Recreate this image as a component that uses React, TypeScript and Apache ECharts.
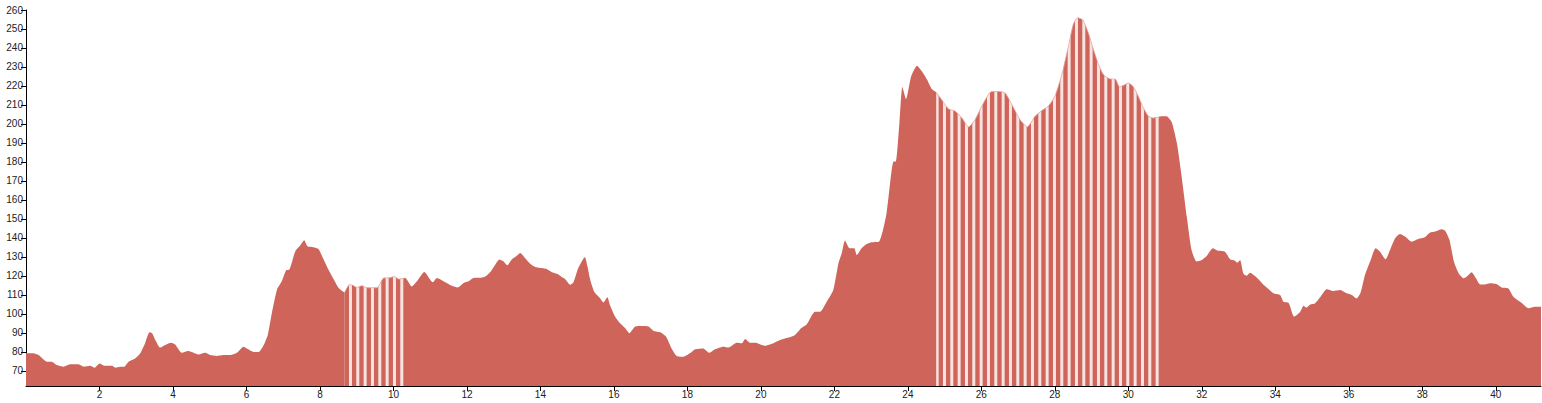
import React, { useEffect, useRef } from "react";
import * as echarts from "echarts";

const distanceKm = [
  0, 0.2, 0.34, 0.57, 0.7, 0.84, 1.02, 1.2, 1.43, 1.57, 1.75, 1.86, 2.0, 2.15, 2.34, 2.43, 2.56, 2.67, 2.79, 2.97,
  3.11, 3.24, 3.36, 3.43, 3.52, 3.65, 3.79, 3.94, 4.06, 4.24, 4.42, 4.56, 4.69, 4.88, 5.01, 5.19, 5.37, 5.56, 5.74, 5.92,
  6.05, 6.19, 6.33, 6.47, 6.58, 6.69, 6.83, 6.96, 7.08, 7.17, 7.33, 7.46, 7.57, 7.66, 7.82, 7.96, 8.1, 8.23, 8.37, 8.51,
  8.67, 8.8, 8.89, 9.0, 9.14, 9.28, 9.55, 9.73, 9.91, 10.02, 10.14, 10.32, 10.5, 10.64, 10.84, 11.07, 11.18, 11.41, 11.59, 11.75,
  11.91, 12.04, 12.18, 12.36, 12.5, 12.63, 12.77, 12.88, 12.99, 13.1, 13.22, 13.34, 13.45, 13.58, 13.72, 13.86, 14.04, 14.17, 14.31, 14.45,
  14.58, 14.67, 14.81, 14.9, 15.03, 15.21, 15.28, 15.35, 15.46, 15.62, 15.71, 15.82, 15.9, 16.03, 16.17, 16.31, 16.42, 16.58, 16.76, 16.94,
  17.08, 17.26, 17.42, 17.57, 17.71, 17.89, 18.07, 18.21, 18.43, 18.6, 18.75, 18.98, 19.12, 19.34, 19.48, 19.57, 19.71, 19.84, 20.11, 20.34,
  20.52, 20.75, 20.93, 21.1, 21.25, 21.47, 21.61, 21.79, 21.97, 22.11, 22.2, 22.29, 22.41, 22.54, 22.61, 22.74, 22.88, 23.02, 23.22, 23.42,
  23.61, 23.67, 23.77, 23.85, 23.95, 24.09, 24.25, 24.38, 24.52, 24.65, 24.77, 24.92, 25.1, 25.29, 25.47, 25.65, 25.83, 26.01, 26.24, 26.42,
  26.64, 26.83, 27.05, 27.25, 27.46, 27.64, 27.82, 28.0, 28.19, 28.37, 28.5, 28.62, 28.76, 28.91, 29.05, 29.19, 29.32, 29.5, 29.64, 29.76,
  29.86, 30.0, 30.14, 30.27, 30.41, 30.55, 30.68, 30.82, 30.91, 31.04, 31.18, 31.32, 31.45, 31.59, 31.72, 31.86, 32.0, 32.13, 32.3, 32.42,
  32.63, 32.77, 32.9, 32.97, 33.04, 33.13, 33.22, 33.31, 33.49, 33.72, 33.95, 34.13, 34.22, 34.36, 34.51, 34.68, 34.77, 34.84, 34.95, 35.08,
  35.22, 35.4, 35.58, 35.76, 35.94, 36.08, 36.21, 36.32, 36.44, 36.58, 36.73, 36.85, 37.0, 37.12, 37.26, 37.39, 37.53, 37.71, 37.89, 38.07,
  38.21, 38.35, 38.53, 38.62, 38.74, 38.86, 38.98, 39.13, 39.21, 39.34, 39.46, 39.57, 39.71, 39.84, 40.02, 40.16, 40.34, 40.48, 40.7, 40.89,
  41.07, 41.23,
];

const elevationM = [
  79.2, 79.2, 78.3, 74.8, 74.8, 73, 72.1, 73.4, 73.4, 72.1, 72.6, 71.6, 73.9, 72.6, 72.6, 71.6, 72.1, 72.1, 74.8, 76.5,
  79.2, 84.5, 90.3, 89.8, 86.2, 82.2, 83.6, 84.8, 83.9, 79.5, 80.4, 79.5, 78.6, 79.5, 78.3, 77.8, 78.3, 78.3, 79.5, 82.7,
  81.3, 79.9, 79.9, 83.6, 88.9, 100.3, 112.7, 117.1, 122.9, 123.3, 133, 136, 138.8, 135.6, 135.1, 134.2, 128.6, 123.3, 118.3, 113.6,
  111.3, 115.3, 115.1, 113.9, 114.8, 113.7, 113.7, 118.8, 119, 119.7, 118.3, 118.9, 114.4, 117.1, 122, 116.6, 118.9, 116.7, 114.8, 113.9,
  116.2, 117.1, 118.9, 119, 119.7, 121.9, 125.9, 128.6, 127.7, 125.6, 128.6, 130.3, 132.1, 129.4, 126.4, 124.7, 124.1, 123.6, 121.9, 121.1,
  119.4, 118.3, 115.3, 116.6, 124.1, 129.8, 125, 118.3, 111.8, 108.3, 106, 108.8, 104.2, 98.6, 95, 92.4, 89.8, 93.3, 93.6, 93.3,
  91, 90.3, 88, 81.8, 77.8, 77.4, 79.2, 81.3, 81.8, 79.5, 81.3, 82.7, 82.3, 84.8, 84.5, 86.8, 84.8, 84.8, 83.2, 84.5,
  86.2, 87.5, 88.9, 92.5, 94.5, 101.1, 101.1, 106.4, 112.6, 126.6, 131.9, 138.6, 134.6, 134.6, 131, 134.6, 136.8, 137.7, 138.1, 153,
  180.2, 180.2, 200.5, 219.5, 213.1, 225.1, 230.7, 227.7, 223.4, 218.4, 216.7, 212.8, 208, 206.7, 203.1, 198.4, 202.3, 209.3, 216.7, 217.1,
  216.4, 210.2, 202.3, 198.4, 204, 207, 209.3, 214.6, 226, 241, 252.4, 255.9, 254.7, 248, 239.2, 231.3, 226, 223.7, 223.7, 219.5,
  220.2, 221.6, 219.5, 214.6, 208.4, 204, 203.1, 203.6, 204, 204, 200.9, 189.9, 172.3, 151.2, 133.6, 127.5, 128.3, 130.4, 134.5, 133.3,
  132.7, 128.7, 128, 126.9, 128.3, 121.3, 120.1, 121.6, 119.2, 114.6, 110.8, 109.9, 106.4, 105.8, 98.5, 101.1, 104.2, 103.2, 104.9, 105.5,
  108.7, 112.9, 112, 112.5, 110.8, 109.9, 108.1, 111.1, 120.4, 127.5, 134.5, 132.7, 128.7, 133.6, 139.8, 142.1, 140.7, 138, 139.4, 140.3,
  142.8, 143.3, 144.5, 143.8, 138.9, 127.5, 121.7, 118.7, 119.6, 121.9, 118.7, 115.5, 115.5, 116.1, 115.7, 113.9, 113.4, 109, 105.8, 102.9,
  103.7, 103.7,
];

const stripeSegments = [
  [8.67, 10.32],
  [24.77, 30.91],
];

const xTickValues = [2, 4, 6, 8, 10, 12, 14, 16, 18, 20, 22, 24, 26, 28, 30, 32, 34, 36, 38, 40];
const yTickValues = [70, 80, 90, 100, 110, 120, 130, 140, 150, 160, 170, 180, 190, 200, 210, 220, 230, 240, 250, 260];

const RED = "#ce645a";

function makeStripePattern() {
  const c = document.createElement("canvas");
  const period = 22 / 3;
  c.width = 22;
  c.height = 4;
  const ctx = c.getContext("2d")!;
  ctx.fillStyle = RED;
  ctx.fillRect(0, 0, 22, 4);
  ctx.fillStyle = "#f7e4e1";
  for (let i = 0; i < 3; i++) {
    ctx.fillRect(i * period + 4.3, 0, 3, 4);
  }
  return c;
}

export default function App() {
  const ref = useRef<HTMLDivElement>(null);
  useEffect(() => {
    if (!ref.current) return;
    const chart = echarts.init(ref.current, null, { renderer: "svg" });
    const full = distanceKm.map((d, i) => [d, elevationM[i]]);
    const striped: any[] = [];
    stripeSegments.forEach(([a, b], si) => {
      if (si > 0) striped.push([null, null]);
      distanceKm.forEach((d, i) => {
        if (d >= a - 1e-9 && d <= b + 1e-9) striped.push([d, elevationM[i]]);
      });
    });
    const pattern = makeStripePattern();
    const labelStyle = { fontSize: 10, color: "#222", fontFamily: "Liberation Sans, Arial, sans-serif" };
    chart.setOption({
      animation: false,
      grid: { left: 26, right: 1, top: 10, bottom: 17, containLabel: false, outerBoundsMode: "none" },
      xAxis: {
        type: "value",
        min: 0,
        max: 41.23,
        axisLine: { show: true, onZero: false, lineStyle: { color: "#000", width: 1 } },
        axisTick: { show: true, length: 5, lineStyle: { color: "#000" }, customValues: xTickValues },
        axisLabel: { ...labelStyle, margin: 3, customValues: xTickValues },
        splitLine: { show: false },
      },
      yAxis: {
        type: "value",
        min: 62,
        max: 260,
        axisLine: { show: true, lineStyle: { color: "#000", width: 1 } },
        axisTick: { show: true, length: 5, lineStyle: { color: "#000" }, customValues: yTickValues },
        axisLabel: { ...labelStyle, margin: 3, customValues: yTickValues },
        splitLine: { show: false },
      },
      series: [
        {
          type: "line",
          data: full,
          showSymbol: false,
          smooth: 0.2,
          lineStyle: { width: 0 },
          areaStyle: { color: RED, opacity: 1 },
          z: 2,
        },
        {
          type: "line",
          data: striped,
          showSymbol: false,
          smooth: 0.2,
          connectNulls: false,
          lineStyle: { width: 0.8, color: "#e8b3ac" },
          areaStyle: { color: { image: pattern, repeat: "repeat" } as any, opacity: 1 },
          z: 3,
        },
      ],
    });
    return () => chart.dispose();
  }, []);
  return (
    <div
      ref={ref}
      style={{ position: "fixed", left: 0, top: 0, width: 1542, height: 403, background: "#fff" }}
    />
  );
}
